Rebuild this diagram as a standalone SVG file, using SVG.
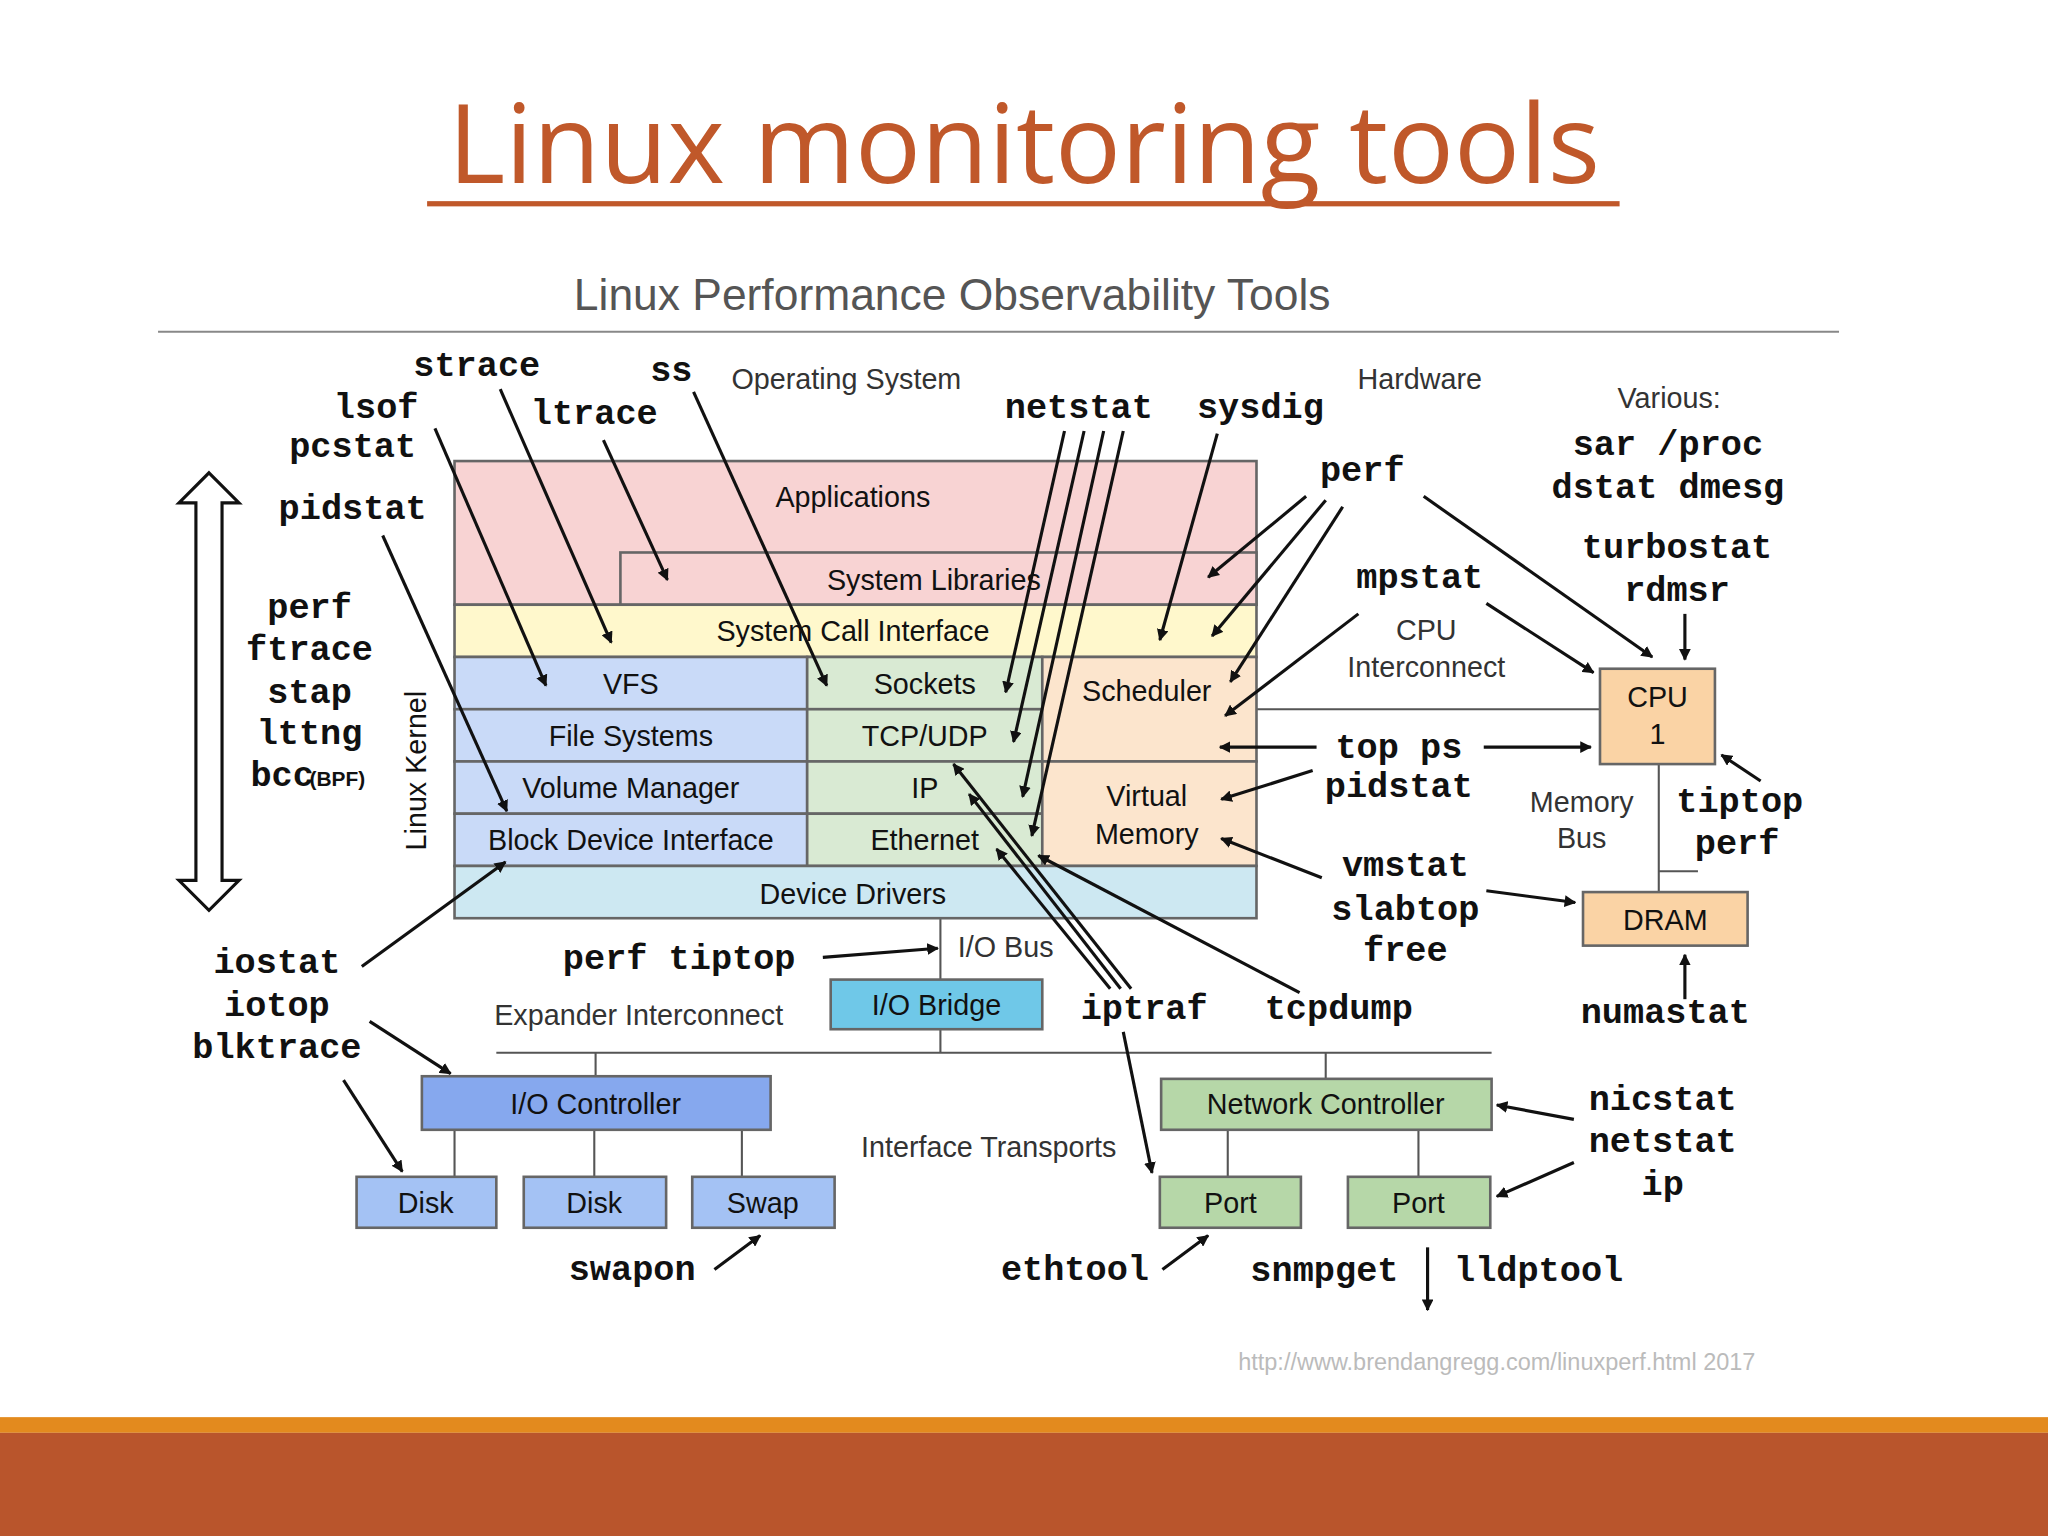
<svg xmlns="http://www.w3.org/2000/svg" width="2048" height="1536" viewBox="0 0 2048 1536">
<defs>
<marker id="ah" viewBox="0 0 10 10" refX="9" refY="5" markerWidth="9" markerHeight="9" markerUnits="userSpaceOnUse" orient="auto"><path d="M0,0L10,5L0,10z" fill="#111"/></marker>
<style>
.m{font-family:"Liberation Mono",monospace;font-weight:bold;font-size:27px;fill:#111;text-anchor:middle}
.s{font-family:"Liberation Sans",Arial,sans-serif;font-size:22px;fill:#111;text-anchor:middle}
.l{font-family:"Liberation Sans",Arial,sans-serif;font-size:22px;fill:#333;text-anchor:middle}
.b{stroke:#666;stroke-width:2}
.a{stroke:#111;stroke-width:2.4;fill:none;marker-end:url(#ah)}
.w{stroke:#555;stroke-width:1.6;fill:none}
</style>
</defs>
<rect width="2048" height="1536" fill="#fff"/>
<g transform="scale(1.30612)">
<g id="title">
<text x="784" y="140" font-family="Open Sans,Liberation Sans,sans-serif" font-size="84" fill="#C0582A" text-anchor="middle">Linux monitoring tools</text>
<rect x="327" y="154" width="913" height="4" fill="#C0582A"/>
<text x="729" y="237" font-family="Liberation Sans,sans-serif" font-size="34" fill="#555" text-anchor="middle">Linux Performance Observability Tools</text>
<line x1="121" y1="254" x2="1408" y2="254" stroke="#888" stroke-width="1.5"/>
<text x="1146" y="1049" font-family="Liberation Sans,sans-serif" font-size="18" fill="#bbb" text-anchor="middle">http://www.brendangregg.com/linuxperf.html 2017</text>
<rect x="0" y="1085" width="1568" height="12" fill="#E38A1E"/>
<rect x="0" y="1097" width="1568" height="79" fill="#B9552C"/>
</g>
<g id="wires">
<line class="w" x1="962" y1="543" x2="1225" y2="543"/>
<line class="w" x1="1270" y1="585" x2="1270" y2="683"/>
<line class="w" x1="1270" y1="667" x2="1300" y2="667"/>
<line class="w" x1="720" y1="703" x2="720" y2="806"/>
<line class="w" x1="380" y1="806" x2="1142" y2="806"/>
<line class="w" x1="456" y1="806" x2="456" y2="824"/>
<line class="w" x1="1015" y1="806" x2="1015" y2="826"/>
<line class="w" x1="348" y1="865" x2="348" y2="901"/>
<line class="w" x1="455" y1="865" x2="455" y2="901"/>
<line class="w" x1="568" y1="865" x2="568" y2="901"/>
<line class="w" x1="940" y1="865" x2="940" y2="901"/>
<line class="w" x1="1086" y1="865" x2="1086" y2="901"/>
</g>
<g id="kernel">
<rect class="b" x="348" y="353" width="614" height="110" fill="#F8D3D3"/>
<text class="s" x="653" y="388">Applications</text>
<rect class="b" x="475" y="423" width="487" height="40" fill="#F8D3D3"/>
<text class="s" x="715" y="452">System Libraries</text>
<rect class="b" x="348" y="463" width="614" height="40" fill="#FFF8CC"/>
<text class="s" x="653" y="491">System Call Interface</text>
<rect class="b" x="348" y="503" width="270" height="40" fill="#C9DAF8"/><text class="s" x="483" y="531">VFS</text>
<rect class="b" x="348" y="543" width="270" height="40" fill="#C9DAF8"/><text class="s" x="483" y="571">File Systems</text>
<rect class="b" x="348" y="583" width="270" height="40" fill="#C9DAF8"/><text class="s" x="483" y="611">Volume Manager</text>
<rect class="b" x="348" y="623" width="270" height="40" fill="#C9DAF8"/><text class="s" x="483" y="651">Block Device Interface</text>
<rect class="b" x="618" y="503" width="180" height="40" fill="#D9EAD3"/><text class="s" x="708" y="531">Sockets</text>
<rect class="b" x="618" y="543" width="180" height="40" fill="#D9EAD3"/><text class="s" x="708" y="571">TCP/UDP</text>
<rect class="b" x="618" y="583" width="180" height="40" fill="#D9EAD3"/><text class="s" x="708" y="611">IP</text>
<rect class="b" x="618" y="623" width="180" height="40" fill="#D9EAD3"/><text class="s" x="708" y="651">Ethernet</text>
<rect class="b" x="798" y="503" width="164" height="80" fill="#FCE5CD"/><text class="s" x="878" y="537">Scheduler</text>
<rect class="b" x="798" y="583" width="164" height="80" fill="#FCE5CD"/><text class="s" x="878" y="617">Virtual</text><text class="s" x="878" y="646">Memory</text>
<rect class="b" x="348" y="663" width="614" height="40" fill="#CDE8F2"/><text class="s" x="653" y="692">Device Drivers</text>
<text class="s" x="0" y="0" transform="translate(326,590) rotate(-90)">Linux Kernel</text>
<path d="M160,362L183,385H170V674H183L160,697L137,674H150V385H137Z" fill="#fff" stroke="#111" stroke-width="2.4"/>
</g>
<g id="hardware">
<rect class="b" x="1225" y="512" width="88" height="73" fill="#FAD3A5"/><text class="s" x="1269" y="541">CPU</text><text class="s" x="1269" y="570">1</text>
<rect class="b" x="1212" y="683" width="126" height="41" fill="#FAD3A5"/><text class="s" x="1275" y="712">DRAM</text>
<rect class="b" x="636" y="750" width="162" height="38" fill="#6FC8E8"/><text class="s" x="717" y="777">I/O Bridge</text>
<rect class="b" x="323" y="824" width="267" height="41" fill="#86A8EE"/><text class="s" x="456" y="853">I/O Controller</text>
<rect class="b" x="273" y="901" width="107" height="39" fill="#A4C2F4"/><text class="s" x="326" y="929">Disk</text>
<rect class="b" x="401" y="901" width="109" height="39" fill="#A4C2F4"/><text class="s" x="455" y="929">Disk</text>
<rect class="b" x="530" y="901" width="109" height="39" fill="#A4C2F4"/><text class="s" x="584" y="929">Swap</text>
<rect class="b" x="889" y="826" width="253" height="39" fill="#B6D7A8"/><text class="s" x="1015" y="853">Network Controller</text>
<rect class="b" x="888" y="901" width="108" height="39" fill="#B6D7A8"/><text class="s" x="942" y="929">Port</text>
<rect class="b" x="1032" y="901" width="109" height="39" fill="#B6D7A8"/><text class="s" x="1086" y="929">Port</text>
</g>
<g id="labels">
<text class="l" x="648" y="298">Operating System</text>
<text class="l" x="1087" y="298">Hardware</text>
<text class="l" x="1278" y="312">Various:</text>
<text class="l" x="1092" y="490">CPU</text><text class="l" x="1092" y="518">Interconnect</text>
<text class="l" x="1211" y="622">Memory</text><text class="l" x="1211" y="649">Bus</text>
<text class="l" x="770" y="733">I/O Bus</text>
<text class="l" x="489" y="785">Expander Interconnect</text>
<text class="l" x="757" y="886">Interface Transports</text>
</g>
<g id="tools">
<text class="m" x="365" y="288">strace</text>
<text class="m" x="514" y="292">ss</text>
<text class="m" x="288" y="320">lsof</text>
<text class="m" x="455" y="325">ltrace</text>
<text class="m" x="270" y="350">pcstat</text>
<text class="m" x="270" y="397">pidstat</text>
<text class="m" x="826" y="320">netstat</text>
<text class="m" x="965" y="320">sysdig</text>
<text class="m" x="1043" y="368">perf</text>
<text class="m" x="237" y="473">perf</text>
<text class="m" x="237" y="505">ftrace</text>
<text class="m" x="237" y="538">stap</text>
<text class="m" x="237" y="570">lttng</text>
<text class="m" x="216" y="602">bcc</text><text x="237" y="602" font-family="Liberation Sans,sans-serif" font-weight="bold" font-size="16" fill="#111">(BPF)</text>
<text class="m" x="1277" y="348">sar /proc</text>
<text class="m" x="1277" y="381">dstat dmesg</text>
<text class="m" x="1284" y="427">turbostat</text>
<text class="m" x="1284" y="460">rdmsr</text>
<text class="m" x="1087" y="450">mpstat</text>
<text class="m" x="1071" y="580">top ps</text>
<text class="m" x="1071" y="610">pidstat</text>
<text class="m" x="1332" y="622">tiptop</text>
<text class="m" x="1330" y="654">perf</text>
<text class="m" x="1076" y="671">vmstat</text>
<text class="m" x="1076" y="704">slabtop</text>
<text class="m" x="1076" y="736">free</text>
<text class="m" x="520" y="742">perf tiptop</text>
<text class="m" x="212" y="745">iostat</text>
<text class="m" x="212" y="778">iotop</text>
<text class="m" x="212" y="810">blktrace</text>
<text class="m" x="876" y="780">iptraf</text>
<text class="m" x="1025" y="780">tcpdump</text>
<text class="m" x="1275" y="783">numastat</text>
<text class="m" x="1273" y="850">nicstat</text>
<text class="m" x="1273" y="882">netstat</text>
<text class="m" x="1273" y="915">ip</text>
<text class="m" x="484" y="980">swapon</text>
<text class="m" x="823" y="980">ethtool</text>
<text class="m" x="1014" y="981">snmpget</text>
<text class="m" x="1178" y="981">lldptool</text>
</g>
<g id="connectors">
<line class="a" x1="383" y1="298" x2="468" y2="492"/>
<line class="a" x1="531" y1="300" x2="633" y2="525"/>
<line class="a" x1="333" y1="328" x2="418" y2="525"/>
<line class="a" x1="462" y1="337" x2="511" y2="444"/>
<line class="a" x1="293" y1="410" x2="388" y2="621"/>
<line class="a" x1="815" y1="330" x2="770" y2="530"/>
<line class="a" x1="830" y1="330" x2="776" y2="568"/>
<line class="a" x1="845" y1="330" x2="783" y2="610"/>
<line class="a" x1="860" y1="330" x2="790" y2="640"/>
<line class="a" x1="932" y1="332" x2="888" y2="490"/>
<line class="a" x1="1000" y1="380" x2="925" y2="442"/>
<line class="a" x1="1015" y1="383" x2="928" y2="487"/>
<line class="a" x1="1028" y1="388" x2="942" y2="522"/>
<line class="a" x1="1090" y1="380" x2="1265" y2="503"/>
<line class="a" x1="1040" y1="470" x2="938" y2="548"/>
<line class="a" x1="1138" y1="462" x2="1220" y2="515"/>
<line class="a" x1="1290" y1="470" x2="1290" y2="505"/>
<line class="a" x1="1008" y1="572" x2="934" y2="572"/>
<line class="a" x1="1136" y1="572" x2="1218" y2="572"/>
<line class="a" x1="1005" y1="590" x2="935" y2="612"/>
<line class="a" x1="1348" y1="598" x2="1318" y2="578"/>
<line class="a" x1="1012" y1="672" x2="935" y2="642"/>
<line class="a" x1="1138" y1="682" x2="1206" y2="691"/>
<line class="a" x1="1290" y1="765" x2="1290" y2="731"/>
<line class="a" x1="630" y1="733" x2="718" y2="726"/>
<line class="a" x1="277" y1="740" x2="387" y2="660"/>
<line class="a" x1="283" y1="782" x2="345" y2="822"/>
<line class="a" x1="263" y1="827" x2="308" y2="897"/>
<line class="a" x1="850" y1="757" x2="763" y2="650"/>
<line class="a" x1="858" y1="757" x2="742" y2="608"/>
<line class="a" x1="866" y1="757" x2="730" y2="585"/>
<line class="a" x1="860" y1="790" x2="882" y2="898"/>
<line class="a" x1="995" y1="760" x2="795" y2="655"/>
<line class="a" x1="1205" y1="857" x2="1146" y2="846"/>
<line class="a" x1="1205" y1="890" x2="1146" y2="916"/>
<line class="a" x1="547" y1="972" x2="582" y2="946"/>
<line class="a" x1="890" y1="972" x2="925" y2="946"/>
<line class="a" x1="1093" y1="955" x2="1093" y2="1003"/>
</g>
</g>
</svg>
